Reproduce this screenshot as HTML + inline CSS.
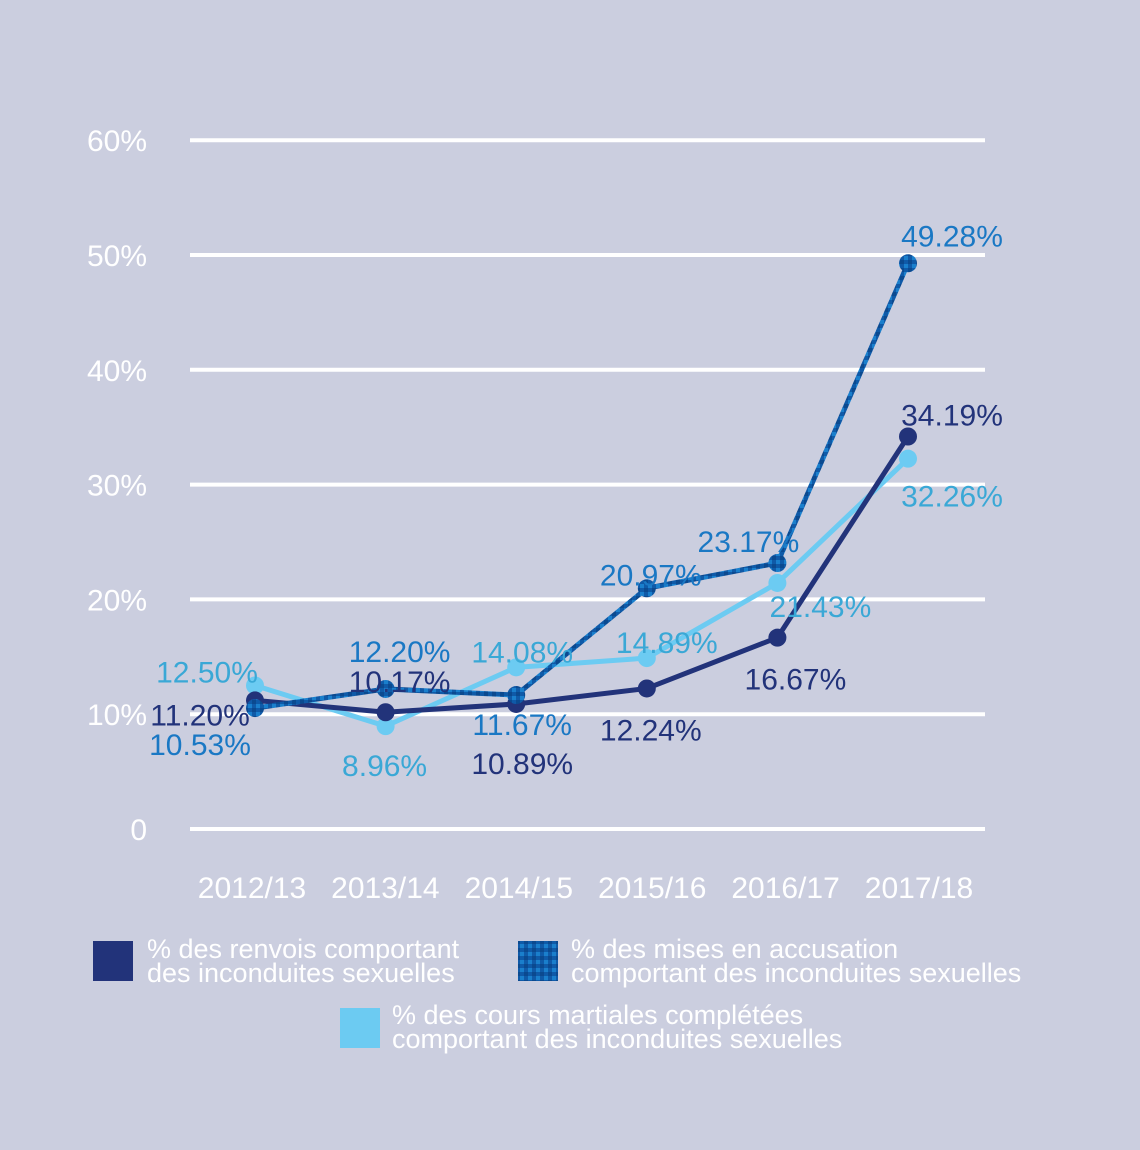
<!DOCTYPE html>
<html><head><meta charset="utf-8"><style>
html,body{margin:0;padding:0;background:#cbcedf;}
svg{display:block;font-family:"Liberation Sans Narrow","Liberation Sans",sans-serif;}
</style></head><body>
<svg width="1140" height="1150" viewBox="0 0 1140 1150" id="chart">
<rect width="1140" height="1150" fill="#cbcedf"/>
<defs>
<pattern id="pix" width="8" height="8" patternUnits="userSpaceOnUse">
<rect width="8" height="8" fill="#0f5aa8"/><rect width="4" height="4" fill="#1a7fcc"/><rect x="4" y="4" width="4" height="4" fill="#0b4a90"/>
</pattern>
</defs>
<g id="grid"></g><g id="lines"></g><g id="labels"></g>
<g font-size="27" fill="#fff">
<rect x="93" y="941" width="40" height="40" fill="#22337a"/>
<text x="147" y="958"><tspan x="147">% des renvois comportant</tspan><tspan x="147" dy="24">des inconduites sexuelles</tspan></text>
<rect x="518" y="941" width="40" height="40" fill="url(#pix)"/>
<text x="571" y="958"><tspan x="571">% des mises en accusation</tspan><tspan x="571" dy="24">comportant des inconduites sexuelles</tspan></text>
<rect x="340" y="1008" width="40" height="40" fill="#6ccbf2"/>
<text x="392" y="1024"><tspan x="392">% des cours martiales complétées</tspan><tspan x="392" dy="24">comportant des inconduites sexuelles</tspan></text>
</g>
</svg>
<script>
const categories=["2012/13","2013/14","2014/15","2015/16","2016/17","2017/18"];
const yTicks=[0,10,20,30,40,50,60];
const renvois=[11.20,10.17,10.89,12.24,16.67,34.19];
const accusation=[10.53,12.20,11.67,20.97,23.17,49.28];
const cours=[12.50,8.96,14.08,14.89,21.43,32.26];
const NS="http://www.w3.org/2000/svg";
function x(i){return 255+i*130.6;}
function xl(i){return 252+i*133.4;}
function y(v){return 829-v*11.48;}
function mk(tag,attrs,parent,txt){const e=document.createElementNS(NS,tag);for(const k in attrs)e.setAttribute(k,attrs[k]);if(txt!==undefined)e.textContent=txt;parent.appendChild(e);return e;}
const grid=document.getElementById('grid');
yTicks.forEach(t=>{
 const l=mk('line',{x1:190,x2:985,y1:y(t),y2:y(t),stroke:'#fff','stroke-width':4},grid);
 
 
 const tx=mk('text',{x:147,y:y(t)+11,'text-anchor':'end','font-size':30,fill:'#fff'},grid,t===0?'0':t+'%');
 
 
});
categories.forEach((c,i)=>{
 const tx=mk('text',{x:xl(i),y:898,'text-anchor':'middle','font-size':30,fill:'#fff'},grid,c);
 
 
});
const series=[
 {name:'cours',data:cours,stroke:'#6ccbf2',fill:'#6ccbf2',lab:'#3aa8d6',off:[[-48,-13],[-1,40],[6,-15],[20,-15],[43,24],[44,38]]},
 {name:'renvois',data:renvois,stroke:'#22337a',fill:'#22337a',lab:'#22337a',off:[[-55,15],[14,-30],[6,60],[4,42],[18,42],[44,-21]]},
 {name:'accusation',data:accusation,stroke:'url(#pix)',fill:'url(#pix)',lab:'#1a78c4',off:[[-55,37],[14,-37],[6,30],[4,-13],[-29,-21],[44,-27]]}
];
const lines=document.getElementById('lines'),labels=document.getElementById('labels');
series.forEach(s=>{
 const pts=s.data.map((v,i)=>x(i)+','+y(v)).join(' ');
 const pl=mk('polyline',{points:pts,fill:'none',stroke:s.stroke,'stroke-width':5},lines);
 
 
 s.data.forEach((v,i)=>{
  const c=mk('circle',{cx:x(i),cy:y(v),r:9,fill:s.fill},lines);
  
  
  const t=mk('text',{x:x(i)+s.off[i][0],y:y(v)+s.off[i][1]+10,'text-anchor':'middle','font-size':30,fill:s.lab},labels,v.toFixed(2)+'%');
  
  
 });
});
</script>
</body></html>
